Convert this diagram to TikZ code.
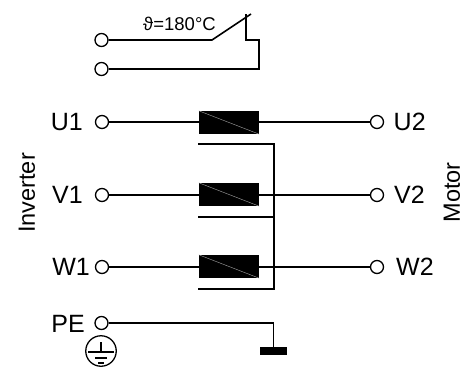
\documentclass[tikz,border=0pt]{standalone}
\usepackage{fontspec}
\setmainfont{Liberation Sans}
\begin{document}
\begin{tikzpicture}[x=1pt,y=-1pt,
  wire/.style={line width=1.6pt,black},
  term/.style={circle,draw=black,line width=1.3pt,fill=white,minimum size=13pt,inner sep=0pt},
  coil/.style={fill=black,draw=none,minimum width=60pt,minimum height=23pt,inner sep=0pt},
  shield/.style={line width=2.2pt,black},
  lab/.style={font=\fontsize{25}{27}\selectfont,inner sep=0pt},
  side/.style={font=\fontsize{23.5}{25}\selectfont,inner sep=0pt,rotate=90},
  earthline/.style={line width=1.3pt,black}]
\useasboundingbox (0,0) rectangle (462,367);
% thermal switch
\node[term] (t1) at (101.5,40) {};
\node[term] (t2) at (101.5,69) {};
\coordinate (sw0) at (212,40);
\coordinate (sw1) at (251,14);
\coordinate (st) at (246,14);
\coordinate (sb) at (246,40);
\coordinate (sr) at (259,40);
\coordinate (srb) at (259,69);
\draw[wire] (t1) -- (sw0) -- (sw1);
\draw[wire] (st) -- (sb) -- (sr) -- (srb) -- (t2);
\node[inner sep=0pt,font=\fontsize{18.5}{20}\selectfont] (temp) at (179.5,24) {ϑ=180°C};
% terminals
\node[term] (u1) at (102,122) {};
\node[term] (v1) at (102,195) {};
\node[term] (w1) at (102,267) {};
\node[term] (pe) at (101.5,323) {};
\node[term] (u2) at (377,122) {};
\node[term] (v2) at (377,195) {};
\node[term] (w2) at (377,267) {};
\node[coil] (cu) at (229,122.5) {};
\node[coil] (cv) at (229,194.5) {};
\node[coil] (cw) at (229,266.5) {};
\draw[wire] (u1) -- (u2);
\draw[wire] (v1) -- (v2);
\draw[wire] (w1) -- (w2);
\node[coil] at (cu) {};
\node[coil] at (cv) {};
\node[coil] at (cw) {};
\foreach \c in {cu,cv,cw}{
  \draw[line width=.4pt,black!35] (\c.north west) -- (\c.south east);
}
% shield
\coordinate (s1) at (198,144);
\coordinate (s2) at (198,217);
\coordinate (s3) at (198,289);
\coordinate (sv1) at (274,144);
\coordinate (sv2) at (274,217);
\coordinate (sv3) at (274,289);
\draw[shield] (s1) -- (sv1) -- (sv3) -- (s3);
\draw[shield] (s2) -- (sv2);
% earth
\node[fill=black,minimum width=27pt,minimum height=8pt,inner sep=0pt] (gnd) at (273.5,351) {};
\coordinate (pec) at (273.5,323);
\draw[wire] (pe) -- (pec) -- (gnd.north);
\node[circle,draw=black,line width=1.3pt,minimum size=30.5pt,inner sep=0pt] (es) at (101,351) {};
\draw[earthline] (101,342) -- (101,352);
\draw[earthline] (88,352) -- (114,352);
\draw[earthline] (95,358) -- (107,358);
\draw[earthline] (98,363) -- (104,363);
% labels
\node[lab,anchor=east] (lu1) at (83,122) {U1};
\node[lab,anchor=east] (lv1) at (83,195) {V1};
\node[lab,anchor=east] (lw1) at (90,267) {W1};
\node[lab,anchor=east] (lpe) at (85,323.5) {PE};
\node[lab,anchor=west] (lu2) at (393.5,122) {U2};
\node[lab,anchor=west] (lv2) at (394,195) {V2};
\node[lab,anchor=west] (lw2) at (396,267) {W2};
\node[side] (inv) at (27,193) {Inverter};
\node[side] (mot) at (452,192.5) {Motor};
\end{tikzpicture}
\end{document}
